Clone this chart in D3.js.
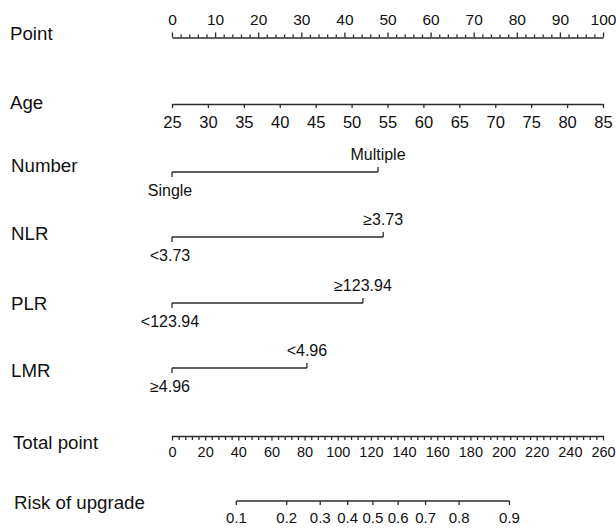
<!DOCTYPE html>
<html><head><meta charset="utf-8">
<script src="https://cdn.jsdelivr.net/npm/d3@7"></script>
<style>body{margin:0;background:#fff}svg{display:block}text{font-family:"Liberation Sans",Arial,sans-serif;fill:#111}</style>
</head><body><svg id="c" width="616" height="528"></svg>
<script>
// ---- data ----
const rowLabels = ["Point","Age","Number","NLR","PLR","LMR","Total point","Risk of upgrade"];
const pointTicks = [0,10,20,30,40,50,60,70,80,90,100];
const ageTicks = [25,30,35,40,45,50,55,60,65,70,75,80,85];
const ageRange = [25,85];           // age 25 -> 0 pts, 85 -> 100 pts
const catVars = ["Number","NLR","PLR","LMR"];
const catLow = ["Single","<3.73","<123.94","\u22654.96"];
const catHigh = ["Multiple","\u22653.73","\u2265123.94","<4.96"];
const catPoints = [47.8,49.0,44.3,31.3]; // points of the non-reference level
const totalTicks = [0,20,40,60,80,100,120,140,160,180,200,220,240,260];
const riskTicks = [0.1,0.2,0.3,0.4,0.5,0.6,0.7,0.8,0.9];
const riskModel = {ptsAtHalf:121.2, ptsPerLogit:37.5};

// ---- layout ----
const svg = d3.select("#c");
const x0 = 172, x1 = 603;
const xPts = d3.scaleLinear().domain([0,100]).range([x0,x1]);
const xAge = d3.scaleLinear().domain(ageRange).range([x0,x1]);
const xTot = d3.scaleLinear().domain([0,260]).range([x0,x1]);
const logit = p => Math.log(p/(1-p));
const xRisk = p => xTot(riskModel.ptsAtHalf + riskModel.ptsPerLogit*logit(p));
const stroke = "#2b2b2b";
const sw = 1.3;

const rowY = [33,102,165,233,303,370,442,502];
const rowX = [10,10,11,11,11,11,13,14];
svg.selectAll("text.row").data(rowLabels).join("text").attr("class","row")
  .attr("x",(d,i)=>rowX[i]).attr("y",(d,i)=>rowY[i]).attr("dy","0.35em")
  .attr("font-size",18.7).text(d=>d);

function style(g, fs){
  g.select(".domain").attr("stroke",stroke).attr("stroke-width",sw);
  g.selectAll(".tick line").attr("stroke",stroke).attr("stroke-width",sw);
  g.selectAll("text").attr("font-size",fs).attr("fill","#111").attr("font-family",'"Liberation Sans",Arial,sans-serif');
}

// Point axis
const ptMinor = d3.range(0,101,2).filter(v=>v%10!==0);
const gPm = svg.append("g").attr("transform","translate(0,37.5)")
  .call(d3.axisTop(xPts).tickValues(ptMinor).tickSize(3).tickFormat(""));
gPm.select(".domain").remove();
gPm.selectAll(".tick line").attr("stroke",stroke).attr("stroke-width",sw);
const gP = svg.append("g").attr("transform","translate(0,37.5)")
  .call(d3.axisTop(xPts).tickValues(pointTicks).tickSize(5).tickSizeOuter(0).tickPadding(8));
style(gP,15.5);

// Age axis
const gA = svg.append("g").attr("transform","translate(0,104)")
  .call(d3.axisBottom(xAge).tickValues(ageTicks).tickSize(4).tickSizeOuter(0).tickPadding(8));
style(gA,16.5);

// categorical rows
const catLineY = [172,237,303,368];
catVars.forEach((v,i)=>{
  const y = catLineY[i], xa = xPts(0), xb = xPts(catPoints[i]);
  const g = svg.append("g");
  g.append("line").attr("x1",xa).attr("x2",xb).attr("y1",y).attr("y2",y).attr("stroke",stroke).attr("stroke-width",sw);
  g.append("line").attr("x1",xa).attr("x2",xa).attr("y1",y).attr("y2",y+5).attr("stroke",stroke).attr("stroke-width",sw);
  g.append("line").attr("x1",xb).attr("x2",xb).attr("y1",y).attr("y2",y-5).attr("stroke",stroke).attr("stroke-width",sw);
  g.append("text").attr("x",xa-2).attr("y",y+18).attr("dy","0.35em").attr("text-anchor","middle").attr("font-size",16).text(catLow[i]);
  g.append("text").attr("x",xb).attr("y",y-18).attr("dy","0.35em").attr("text-anchor","middle").attr("font-size",16).text(catHigh[i]);
});

// Total point axis
const totMinor = d3.range(0,261,4).filter(v=>v%20!==0);
const gTm = svg.append("g").attr("transform","translate(0,436)")
  .call(d3.axisBottom(xTot).tickValues(totMinor).tickSize(4).tickFormat(""));
gTm.select(".domain").remove();
gTm.selectAll(".tick line").attr("stroke",stroke).attr("stroke-width",sw);
const gT = svg.append("g").attr("transform","translate(0,436)")
  .call(d3.axisBottom(xTot).tickValues(totalTicks).tickSize(4.5).tickSizeOuter(0).tickPadding(6.5));
style(gT,14.5);

// Risk axis
const rY = 501;
const gR = svg.append("g");
gR.append("line").attr("x1",xRisk(riskTicks[0])).attr("x2",xRisk(riskTicks[riskTicks.length-1]))
  .attr("y1",rY).attr("y2",rY).attr("stroke",stroke).attr("stroke-width",sw);
gR.selectAll("line.t").data(riskTicks).join("line").attr("class","t")
  .attr("x1",d=>xRisk(d)).attr("x2",d=>xRisk(d)).attr("y1",rY).attr("y2",rY+4)
  .attr("stroke",stroke).attr("stroke-width",sw);
gR.selectAll("text").data(riskTicks).join("text")
  .attr("x",d=>xRisk(d)).attr("y",rY+17).attr("dy","0.35em").attr("text-anchor","middle")
  .attr("font-size",15).text(d=>d3.format(".1f")(d));
</script></body></html>
